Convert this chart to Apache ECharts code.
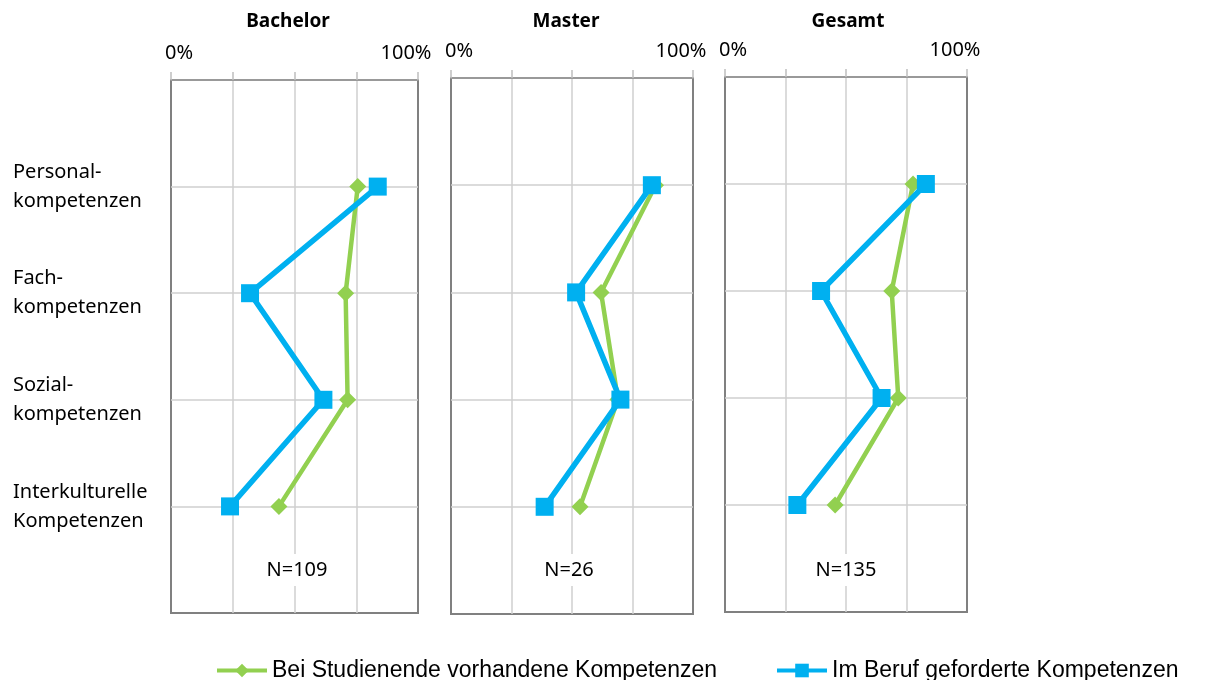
<!DOCTYPE html>
<html>
<head>
<meta charset="utf-8">
<script src="https://cdn.jsdelivr.net/npm/echarts@6/dist/echarts.min.js"></script>
<style>
  html, body { margin: 0; padding: 0; background: #fff; }
  #main { width: 1205px; height: 680px; }
</style>
</head>
<body>
<div id="main"></div>
<script>
// Daten
var panels = ['Bachelor', 'Master', 'Gesamt'];
var sampleSizes = [109, 26, 135];
var categories = ['Personal-\nkompetenzen', 'Fach-\nkompetenzen', 'Sozial-\nkompetenzen', 'Interkulturelle\nKompetenzen'];
var tickLabels = ['0%', '', '', '', '100%']; // 0, 25, 50, 75, 100
var seriesNames = ['Bei Studienende vorhandene Kompetenzen', 'Im Beruf geforderte Kompetenzen'];

var bachelorVorhanden = [75.6, 70.7, 71.5, 43.7];
var bachelorGefordert = [83.7, 32.0, 61.7, 23.9];
var masterVorhanden = [84.5, 62.0, 69.0, 53.3];
var masterGefordert = [83.0, 51.7, 70.0, 38.7];
var gesamtVorhanden = [77.7, 68.9, 71.6, 45.5];
var gesamtGefordert = [83.0, 39.7, 64.7, 29.9];

var vorhanden = [bachelorVorhanden, masterVorhanden, gesamtVorhanden];
var gefordert = [bachelorGefordert, masterGefordert, gesamtGefordert];

// Layout
var gridBoxes = [
  { left: 171, top: 80, width: 247, height: 533 },
  { left: 451, top: 78, width: 242, height: 536 },
  { left: 725, top: 77, width: 242, height: 535 }
];
var titleX = [288, 566, 848];
var nLabelX = [297, 569, 846];

var green = '#92D050';
var blue = '#00B0F0';
var borderGray = '#808080';
var gridGray = '#CFCFCF';

var chart = echarts.init(document.getElementById('main'), null, { renderer: 'canvas' });

function toPoints(arr) {
  // Kategorie i liegt bei y = i + 1 (0 und 5 sind die Raender)
  return arr.map(function (v, i) { return [v, i + 1]; });
}

var grids = [], xAxes = [], yAxes = [], series = [], graphics = [];

for (var p = 0; p < panels.length; p++) {
  var g = gridBoxes[p];
  grids.push({
    left: g.left, top: g.top, width: g.width, height: g.height,
    show: true, borderColor: borderGray, borderWidth: 2, backgroundColor: '#fff'
  });
  xAxes.push({
    type: 'value', gridIndex: p, position: 'top',
    min: 0, max: 100, interval: 25,
    axisLine: { show: true, lineStyle: { color: '#999999', width: 2 } },
    axisTick: { show: true, inside: false, length: 8, lineStyle: { color: '#BFBFBF', width: 1.5 } },
    splitLine: { show: true, showMinLine: false, showMaxLine: false, lineStyle: { color: gridGray, width: 1.5 } },
    axisLabel: {
      show: true, margin: 17, showMinLabel: true, showMaxLabel: true,
      fontSize: 20, color: '#000', fontFamily: 'Noto Sans',
      formatter: function (v) {
        var t = tickLabels[Math.round(v / 25)];
        if (!t) return '';
        return v === 0 ? '{lo|' + t + '}' : '{hi|' + t + '}';
      },
      rich: {
        lo: { fontSize: 20, color: '#000', fontFamily: 'Noto Sans', padding: [0, 0, 0, 16] },
        hi: { fontSize: 20, color: '#000', fontFamily: 'Noto Sans', padding: [0, 24, 0, 0] }
      }
    }
  });
  yAxes.push({
    type: 'value', gridIndex: p, inverse: true,
    min: 0, max: 5, interval: 1,
    axisLine: { show: false },
    axisTick: { show: false },
    splitLine: { show: true, showMinLine: false, showMaxLine: false, lineStyle: { color: gridGray, width: 1.5 } },
    axisLabel: {
      show: p === 0, align: 'left', margin: 158,
      fontSize: 20, lineHeight: 29, color: '#000', fontFamily: 'Noto Sans',
      formatter: function (v) { return categories[v - 1] || ''; }
    }
  });
  series.push({
    name: seriesNames[0], type: 'line', xAxisIndex: p, yAxisIndex: p,
    data: toPoints(vorhanden[p]),
    symbol: 'diamond', symbolSize: 17,
    lineStyle: { color: green, width: 4.5 },
    itemStyle: { color: green },
    z: 3
  });
  series.push({
    name: seriesNames[1], type: 'line', xAxisIndex: p, yAxisIndex: p,
    data: toPoints(gefordert[p]),
    symbol: 'rect', symbolSize: 18,
    lineStyle: { color: blue, width: 5.5 },
    itemStyle: { color: blue },
    z: 4
  });
  graphics.push({
    type: 'text', x: titleX[p], y: 22, z: 10,
    style: {
      text: panels[p], fill: '#000', textAlign: 'center', textVerticalAlign: 'middle',
      font: 'bold 19px "Noto Sans"'
    }
  });
  graphics.push({
    type: 'text', x: nLabelX[p], y: 570, z: 10,
    style: {
      text: 'N=' + sampleSizes[p], fill: '#000', textAlign: 'center', textVerticalAlign: 'middle',
      font: '20px "Noto Sans"', backgroundColor: '#fff', padding: [6, 4]
    }
  });
}

var option = {
  animation: false,
  textStyle: { fontFamily: 'Noto Sans' },
  grid: grids,
  xAxis: xAxes,
  yAxis: yAxes,
  series: series,
  graphic: graphics,
  legend: {
    data: seriesNames,
    left: 210, top: 654,
    itemWidth: 50, itemHeight: 17, itemGap: 58,
    lineStyle: { width: 4 },
    textStyle: { fontFamily: 'Liberation Sans', fontSize: 23, color: '#000' }
  }
};

chart.setOption(option);
</script>
</body>
</html>
